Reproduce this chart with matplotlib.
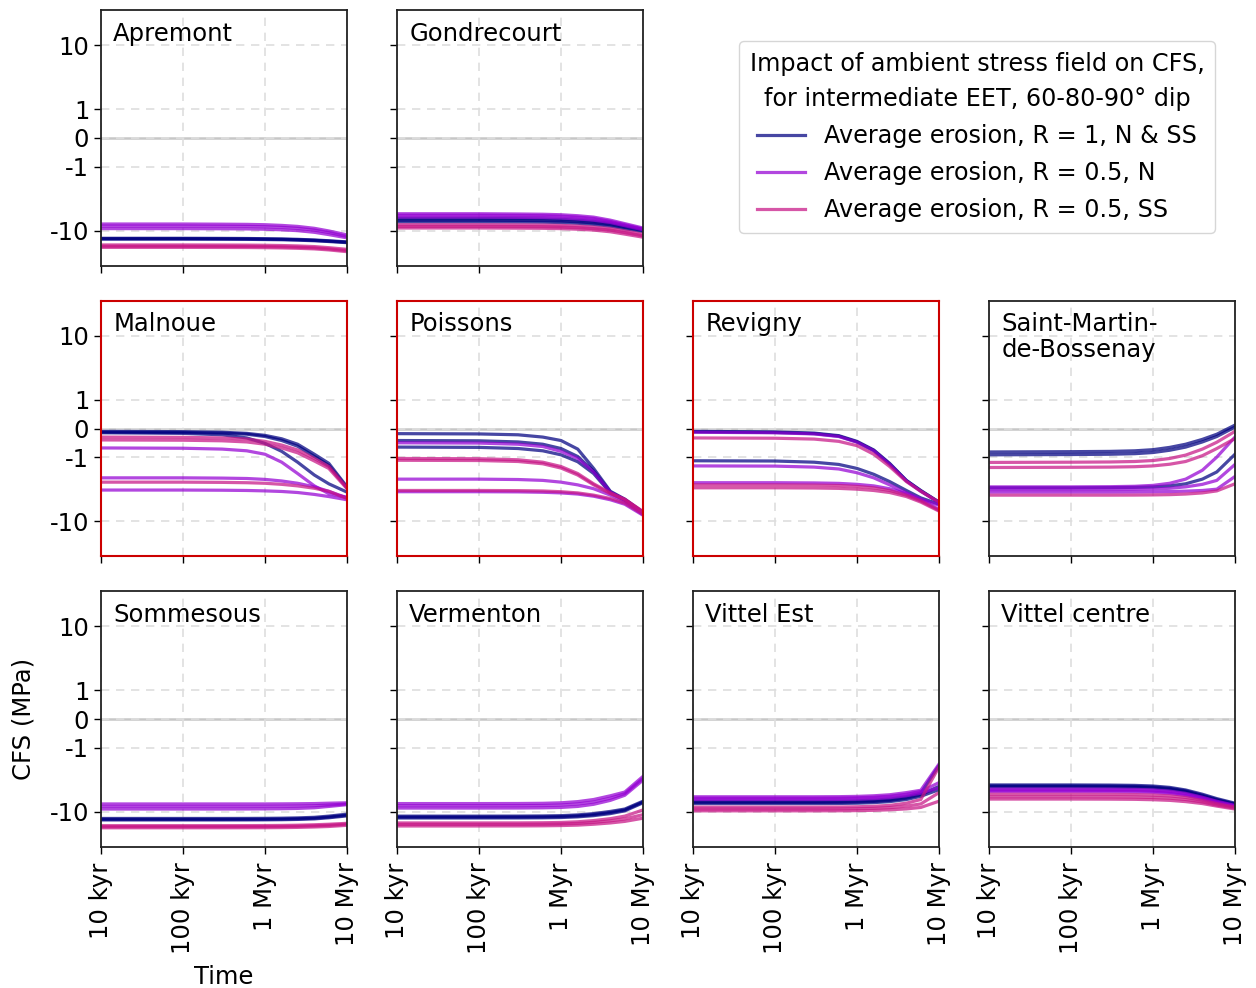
import matplotlib
matplotlib.use("Agg")
import matplotlib.pyplot as plt
from matplotlib.ticker import NullLocator, FixedLocator
from matplotlib.lines import Line2D

plt.rcParams['font.family'] = ['DejaVu Sans']
FS = 17.5
plt.rcParams['font.size'] = FS

# time steps (years)
times = [1e4, 1e5, 3e5, 6e5, 1e6, 1.6e6, 2.5e6, 4e6, 6e6, 1e7]

sites = ["Apremont", "Gondrecourt", "Malnoue", "Poissons", "Revigny",
         "Saint-Martin-\nde-Bossenay", "Sommesous", "Vermenton", "Vittel Est", "Vittel centre"]
highlighted = ["Malnoue", "Poissons", "Revigny"]

# CFS (MPa) per site, for the three scenarios, three dips each (60, 80, 90)
apremont_r1 = [[-13.0, -13.0, -13.05, -13.1, -13.2, -13.3, -13.5, -13.8, -14.2, -14.8],
               [-13.2, -13.2, -13.25, -13.3, -13.4, -13.5, -13.7, -14.0, -14.4, -15.0],
               [-13.4, -13.4, -13.45, -13.5, -13.6, -13.7, -13.9, -14.2, -14.6, -15.2]]
apremont_n = [[-7.8, -7.8, -7.85, -7.9, -8.0, -8.2, -8.5, -9.1, -10.0, -11.5],
              [-8.4, -8.4, -8.45, -8.5, -8.6, -8.8, -9.1, -9.7, -10.6, -12.2],
              [-9.2, -9.2, -9.25, -9.3, -9.4, -9.6, -9.9, -10.5, -11.4, -12.8]]
apremont_ss = [[-16.5, -16.5, -16.55, -16.6, -16.7, -16.85, -17.1, -17.5, -18.2, -19.3],
               [-17.3, -17.3, -17.35, -17.4, -17.5, -17.65, -17.9, -18.3, -19.0, -20.2],
               [-18.0, -18.0, -18.05, -18.1, -18.2, -18.35, -18.6, -19.0, -19.7, -21.0]]

gondrecourt_r1 = [[-6.4, -6.4, -6.45, -6.5, -6.6, -6.8, -7.1, -7.6, -8.4, -9.4],
                  [-6.8, -6.8, -6.85, -6.9, -7.0, -7.2, -7.5, -8.0, -8.8, -9.8],
                  [-7.2, -7.2, -7.25, -7.3, -7.4, -7.6, -7.9, -8.4, -9.2, -10.2]]
gondrecourt_n = [[-5.4, -5.4, -5.45, -5.5, -5.6, -5.8, -6.1, -6.8, -7.7, -9.0],
                 [-5.7, -5.7, -5.75, -5.8, -5.9, -6.1, -6.4, -7.1, -8.0, -9.3],
                 [-6.1, -6.1, -6.15, -6.2, -6.3, -6.5, -6.8, -7.4, -8.3, -9.6]]
gondrecourt_ss = [[-8.0, -8.0, -8.05, -8.1, -8.2, -8.4, -8.7, -9.2, -10.0, -11.3],
                  [-8.5, -8.5, -8.55, -8.6, -8.7, -8.9, -9.2, -9.7, -10.6, -11.9],
                  [-9.0, -9.0, -9.05, -9.1, -9.2, -9.4, -9.7, -10.3, -11.2, -12.5]]

malnoue_r1 = [[-0.10, -0.11, -0.13, -0.17, -0.24, -0.36, -0.55, -0.90, -1.25, -2.9],
              [-0.15, -0.17, -0.22, -0.33, -0.52, -0.80, -1.20, -1.90, -2.60, -3.5],
              [-0.13, -0.14, -0.16, -0.20, -0.28, -0.42, -0.62, -0.98, -1.35, -3.0]]
malnoue_n = [[-0.68, -0.69, -0.72, -0.78, -0.90, -1.20, -1.80, -2.80, -3.70, -4.2],
             [-2.10, -2.10, -2.12, -2.15, -2.22, -2.35, -2.55, -2.90, -3.40, -4.3],
             [-3.25, -3.25, -3.27, -3.30, -3.35, -3.42, -3.55, -3.80, -4.10, -4.6]]
malnoue_ss = [[-0.30, -0.31, -0.33, -0.37, -0.45, -0.58, -0.75, -1.05, -1.40, -3.0],
              [-0.40, -0.41, -0.43, -0.47, -0.55, -0.68, -0.85, -1.15, -1.50, -3.1],
              [-2.45, -2.45, -2.47, -2.50, -2.55, -2.65, -2.80, -3.05, -3.40, -4.4]]

poissons_r1 = [[-0.18, -0.19, -0.22, -0.30, -0.42, -0.72, -1.50, -3.4, -4.5, -7.2],
               [-0.42, -0.43, -0.47, -0.55, -0.70, -0.98, -1.65, -3.5, -4.6, -7.3],
               [-0.65, -0.66, -0.70, -0.78, -0.92, -1.18, -1.80, -3.6, -4.7, -7.4]]
poissons_n = [[-0.50, -0.51, -0.55, -0.63, -0.80, -1.05, -1.70, -3.5, -4.6, -7.3],
              [-2.20, -2.20, -2.23, -2.30, -2.45, -2.70, -3.10, -3.9, -4.9, -7.8],
              [-3.45, -3.45, -3.47, -3.52, -3.60, -3.75, -4.05, -4.6, -5.4, -8.0]]
poissons_ss = [[-1.05, -1.06, -1.10, -1.20, -1.40, -1.80, -2.60, -3.6, -4.5, -7.0],
               [-1.12, -1.13, -1.17, -1.27, -1.48, -1.90, -2.70, -3.7, -4.6, -7.1],
               [-3.30, -3.30, -3.32, -3.36, -3.45, -3.60, -3.90, -4.4, -5.2, -7.7]]

revigny_r1 = [[-0.10, -0.12, -0.16, -0.25, -0.45, -0.75, -1.25, -2.30, -3.3, -5.0],
              [-1.14, -1.15, -1.20, -1.30, -1.50, -1.85, -2.40, -3.30, -4.3, -5.4],
              [-0.12, -0.14, -0.18, -0.27, -0.47, -0.77, -1.28, -2.32, -3.35, -5.05]]
revigny_n = [[-0.13, -0.15, -0.19, -0.28, -0.48, -0.78, -1.30, -2.35, -3.4, -5.1],
             [-1.37, -1.38, -1.43, -1.53, -1.75, -2.10, -2.70, -3.60, -4.5, -5.6],
             [-2.50, -2.50, -2.52, -2.56, -2.65, -2.80, -3.10, -3.70, -4.6, -6.5]]
revigny_ss = [[-0.33, -0.34, -0.37, -0.45, -0.60, -0.90, -1.40, -2.40, -3.4, -5.0],
              [-2.70, -2.70, -2.72, -2.76, -2.85, -3.00, -3.30, -3.90, -4.8, -6.7],
              [-3.00, -3.00, -3.02, -3.06, -3.15, -3.30, -3.55, -4.10, -5.0, -6.9]]

stmartin_r1 = [[-0.82, -0.81, -0.80, -0.78, -0.74, -0.66, -0.55, -0.38, -0.20, 0.12],
               [-0.92, -0.91, -0.90, -0.88, -0.84, -0.76, -0.65, -0.47, -0.28, 0.05],
               [-3.00, -3.00, -2.98, -2.95, -2.90, -2.80, -2.60, -2.20, -1.70, -0.90]]
stmartin_n = [[-2.90, -2.90, -2.88, -2.84, -2.75, -2.55, -2.20, -1.60, -1.00, -0.30],
              [-3.20, -3.20, -3.19, -3.17, -3.13, -3.05, -2.90, -2.65, -2.30, -1.30],
              [-3.50, -3.50, -3.50, -3.49, -3.47, -3.43, -3.38, -3.30, -3.15, -2.00]]
stmartin_ss = [[-1.21, -1.20, -1.19, -1.17, -1.13, -1.05, -0.93, -0.72, -0.48, -0.10],
               [-1.45, -1.44, -1.43, -1.41, -1.37, -1.29, -1.17, -0.95, -0.70, -0.35],
               [-3.90, -3.90, -3.90, -3.89, -3.87, -3.83, -3.75, -3.60, -3.35, -2.60]]

sommesous_r1 = [[-12.6, -12.6, -12.6, -12.58, -12.55, -12.48, -12.35, -12.1, -11.6, -10.8],
                [-13.0, -13.0, -13.0, -12.98, -12.95, -12.88, -12.75, -12.5, -12.0, -11.2],
                [-13.3, -13.3, -13.3, -13.28, -13.25, -13.18, -13.05, -12.8, -12.3, -11.5]]
sommesous_n = [[-7.5, -7.5, -7.5, -7.5, -7.5, -7.48, -7.45, -7.4, -7.3, -7.2],
               [-8.2, -8.2, -8.2, -8.2, -8.18, -8.15, -8.1, -8.0, -7.8, -7.5],
               [-9.0, -9.0, -9.0, -8.98, -8.95, -8.9, -8.8, -8.6, -8.2, -7.7]]
sommesous_ss = [[-16.3, -16.3, -16.3, -16.28, -16.25, -16.18, -16.05, -15.8, -15.5, -15.0],
                [-16.9, -16.9, -16.9, -16.88, -16.85, -16.78, -16.65, -16.4, -16.1, -15.5],
                [-17.6, -17.6, -17.6, -17.58, -17.55, -17.48, -17.35, -17.1, -16.8, -16.1]]

vermenton_r1 = [[-11.6, -11.6, -11.58, -11.52, -11.4, -11.1, -10.6, -9.8, -9.0, -6.8],
                [-12.0, -12.0, -11.98, -11.92, -11.8, -11.5, -11.0, -10.2, -9.3, -7.0],
                [-12.4, -12.4, -12.38, -12.32, -12.2, -11.9, -11.4, -10.6, -9.6, -7.2]]
vermenton_n = [[-7.4, -7.4, -7.38, -7.33, -7.2, -6.9, -6.4, -5.6, -4.9, -2.8],
               [-8.0, -8.0, -7.98, -7.93, -7.8, -7.5, -7.0, -6.1, -5.2, -3.0],
               [-8.7, -8.7, -8.68, -8.62, -8.5, -8.2, -7.6, -6.6, -5.5, -3.2]]
vermenton_ss = [[-14.8, -14.8, -14.78, -14.7, -14.55, -14.2, -13.6, -12.7, -11.6, -9.3],
                [-15.6, -15.6, -15.58, -15.5, -15.35, -15.05, -14.5, -13.7, -12.8, -11.0],
                [-16.5, -16.5, -16.48, -16.4, -16.25, -16.0, -15.5, -14.8, -14.0, -12.5]]

vittelest_r1 = [[-6.8, -6.8, -6.8, -6.77, -6.7, -6.55, -6.3, -5.8, -5.1, -1.9],
                [-7.1, -7.1, -7.1, -7.07, -7.0, -6.85, -6.6, -6.1, -5.4, -4.0],
                [-7.4, -7.4, -7.4, -7.37, -7.3, -7.15, -6.9, -6.4, -5.7, -4.5]]
vittelest_n = [[-5.8, -5.8, -5.8, -5.78, -5.72, -5.6, -5.4, -5.0, -4.6, -1.8],
               [-6.1, -6.1, -6.1, -6.08, -6.02, -5.9, -5.7, -5.3, -4.8, -3.5],
               [-6.4, -6.4, -6.4, -6.38, -6.32, -6.2, -6.0, -5.6, -5.1, -4.2]]
vittelest_ss = [[-8.4, -8.4, -8.4, -8.37, -8.3, -8.15, -7.9, -7.3, -6.4, -2.0],
                [-9.0, -9.0, -9.0, -8.97, -8.9, -8.78, -8.55, -8.1, -7.5, -5.0],
                [-9.6, -9.6, -9.6, -9.58, -9.52, -9.42, -9.25, -8.95, -8.5, -6.8]]

vittelc_r1 = [[-3.80, -3.80, -3.82, -3.86, -3.95, -4.15, -4.55, -5.3, -6.2, -7.3],
              [-3.95, -3.95, -3.97, -4.01, -4.10, -4.30, -4.70, -5.5, -6.4, -7.5],
              [-4.10, -4.10, -4.12, -4.16, -4.25, -4.45, -4.85, -5.7, -6.6, -7.7]]
vittelc_n = [[-4.4, -4.4, -4.42, -4.46, -4.55, -4.75, -5.15, -5.9, -6.8, -7.9],
             [-4.6, -4.6, -4.62, -4.66, -4.75, -4.95, -5.35, -6.1, -7.0, -8.1],
             [-4.8, -4.8, -4.82, -4.86, -4.95, -5.15, -5.55, -6.3, -7.2, -8.3]]
vittelc_ss = [[-5.3, -5.3, -5.32, -5.36, -5.45, -5.62, -5.95, -6.6, -7.4, -8.4],
              [-5.8, -5.8, -5.82, -5.86, -5.95, -6.10, -6.40, -7.0, -7.8, -8.7],
              [-6.3, -6.3, -6.32, -6.36, -6.45, -6.60, -6.90, -7.4, -8.1, -9.0]]

site_data = [
    (apremont_r1, apremont_n, apremont_ss),
    (gondrecourt_r1, gondrecourt_n, gondrecourt_ss),
    (malnoue_r1, malnoue_n, malnoue_ss),
    (poissons_r1, poissons_n, poissons_ss),
    (revigny_r1, revigny_n, revigny_ss),
    (stmartin_r1, stmartin_n, stmartin_ss),
    (sommesous_r1, sommesous_n, sommesous_ss),
    (vermenton_r1, vermenton_n, vermenton_ss),
    (vittelest_r1, vittelest_n, vittelest_ss),
    (vittelc_r1, vittelc_n, vittelc_ss),
]

scenario_labels = ["Average erosion, R = 1, N & SS",
                   "Average erosion, R = 0.5, N",
                   "Average erosion, R = 0.5, SS"]
scenario_colors = ["navy", "darkviolet", "mediumvioletred"]

x_ticks = [1e4, 1e5, 1e6, 1e7]
x_ticklabels = ["10 kyr", "100 kyr", "1 Myr", "10 Myr"]
y_ticks = [-10, -1, 0, 1, 10]
y_ticklabels = ["-10", "-1", "0", "1", "10"]

positions = [(0, 0), (0, 1), (1, 0), (1, 1), (1, 2), (1, 3), (2, 0), (2, 1), (2, 2), (2, 3)]

fig, axes = plt.subplots(3, 4, figsize=(12.56, 9.88), dpi=100, sharex=True, sharey=True)
fig.subplots_adjust(left=101/1256, right=1235/1256, top=1-10/988, bottom=1-847/988,
                    wspace=0.2033, hspace=0.135)

for ax in axes.flat:
    ax.set_visible(False)

for name, (r, c), data in zip(sites, positions, site_data):
    ax = axes[r, c]
    ax.set_visible(True)
    ax.set_xscale('log')
    ax.set_yscale('symlog', linthresh=1, linscale=0.4)
    ax.grid(True, which='major', linestyle=(0, (5, 4)), color='0.87', linewidth=1.2)
    ax.axhline(0, color='0.78', linewidth=1.8, zorder=1.5)
    for series, color in zip(data, scenario_colors):
        for line in series:
            ax.plot(times, line, color=color, alpha=0.72, linewidth=2.3, zorder=2)
    ax.text(0.05, 0.955, name, transform=ax.transAxes, ha='left', va='top',
            fontsize=FS, linespacing=1.1)
    for sp in ax.spines.values():
        if name in highlighted:
            sp.set_color('#cc0000')
            sp.set_linewidth(1.5)
        else:
            sp.set_color('#222222')
            sp.set_linewidth(1.3)

ax0 = axes[0, 0]
ax0.set_xlim(1e4, 1e7)
ax0.set_ylim(-35, 35)
ax0.xaxis.set_major_locator(FixedLocator(x_ticks))
ax0.xaxis.set_minor_locator(NullLocator())
ax0.yaxis.set_major_locator(FixedLocator(y_ticks))
ax0.yaxis.set_minor_locator(NullLocator())

for (r, c) in positions:
    ax = axes[r, c]
    ax.tick_params(labelsize=FS, length=5, width=1)
    ax.tick_params(axis='x', pad=6)
    if r == 2:
        ax.set_xticks(x_ticks)
        ax.set_xticklabels(x_ticklabels, rotation=90)
        ax.tick_params(axis='x', labelbottom=True)
    else:
        ax.tick_params(axis='x', labelbottom=False)
    if c == 0:
        ax.set_yticks(y_ticks)
        ax.set_yticklabels(y_ticklabels)
        ax.tick_params(axis='y', labelleft=True)
    else:
        ax.tick_params(axis='y', labelleft=False)

axes[2, 0].set_ylabel("CFS (MPa)", fontsize=FS, labelpad=10)
axes[2, 0].set_xlabel("Time", fontsize=FS, labelpad=8)

handles = [Line2D([0], [0], color=c, alpha=0.72, linewidth=2.3) for c in scenario_colors]
leg = fig.legend(handles, scenario_labels,
                 title="Impact of ambient stress field on CFS,\nfor intermediate EET, 60-80-90° dip",
                 loc='center', bbox_to_anchor=(977/1256, 1-137/988), fontsize=17.2,
                 title_fontsize=17.2, frameon=True, labelspacing=0.55, borderpad=0.45)
leg.get_title().set_multialignment('center')
leg.get_title().set_linespacing(1.6)

fig.savefig("out.png", dpi=100)
